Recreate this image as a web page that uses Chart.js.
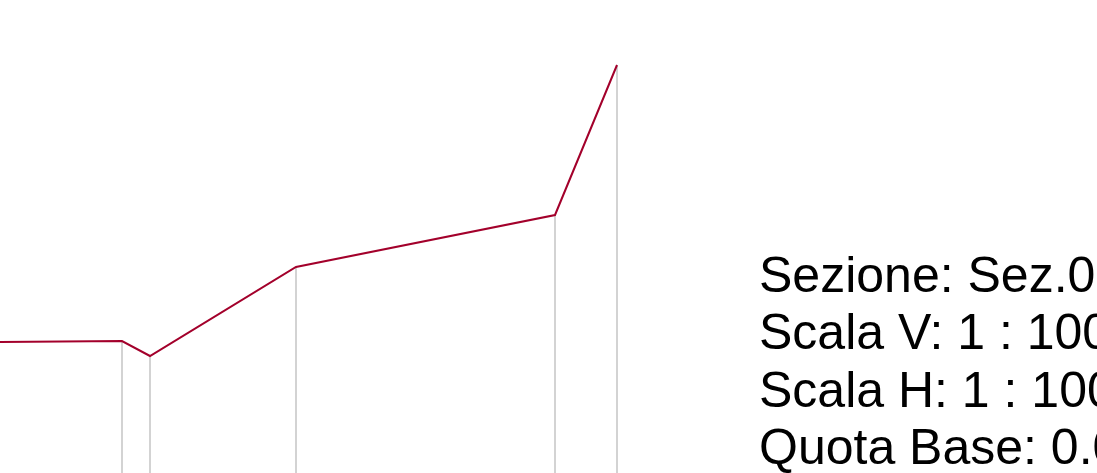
<!DOCTYPE html>
<html>
<head>
<meta charset="utf-8">
<script src="https://cdn.jsdelivr.net/npm/chart.js@4/dist/chart.umd.min.js"></script>
<style>
html,body{margin:0;padding:0;background:#fff;overflow:hidden;}
#wrap{width:1097px;height:473px;position:relative;}
</style>
</head>
<body>
<div id="wrap"><canvas id="c" width="1097" height="473"></canvas></div>
<script>
// Profile points: progressive distance (m) and elevation (m)
const distances = [0.0, 12.2, 15.0, 29.6, 55.5, 61.7];
const elevations = [13.1, 13.2, 11.7, 20.6, 25.8, 40.8];
// Vertical reference lines are drawn at these points (first point excluded)
const verticalAt = [1, 2, 3, 4, 5];
const infoLines = ["Sezione: Sez.01", "Scala V: 1 : 100", "Scala H: 1 : 100", "Quota Base: 0.00"];
const xRange = [0, 109.7];
const yRange = [0, 47.3];

const profile = distances.map((d, i) => ({x: d, y: elevations[i]}));
const verticals = verticalAt.map(i => ({
  data: [{x: distances[i], y: yRange[0]}, {x: distances[i], y: elevations[i]}],
  borderColor: '#c4c4c4', borderWidth: 1.5, pointRadius: 0, fill: false, tension: 0, order: 2
}));

const infoPlugin = {
  id: 'info',
  afterDraw(chart) {
    const ctx = chart.ctx;
    ctx.save();
    ctx.fillStyle = '#000';
    ctx.font = '50px "Liberation Sans", Arial, sans-serif';
    ctx.textBaseline = 'alphabetic';
    infoLines.forEach((t, i) => ctx.fillText(t, 759, 292 + i * 57.3));
    ctx.restore();
  }
};

new Chart(document.getElementById('c'), {
  type: 'line',
  data: {
    datasets: [
      {data: profile, borderColor: '#a3002b', borderWidth: 2, pointRadius: 0, fill: false, tension: 0, order: 1},
      ...verticals
    ]
  },
  options: {
    responsive: false,
    animation: false,
    devicePixelRatio: 1,
    layout: {padding: 0},
    plugins: {legend: {display: false}, tooltip: {enabled: false}},
    scales: {
      x: {type: 'linear', min: xRange[0], max: xRange[1], display: false},
      y: {type: 'linear', min: yRange[0], max: yRange[1], display: false}
    }
  },
  plugins: [infoPlugin]
});
</script>
</body>
</html>
